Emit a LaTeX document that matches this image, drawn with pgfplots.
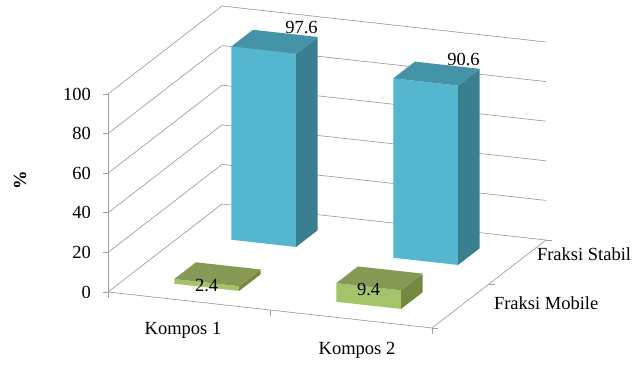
\documentclass[border=0pt]{standalone}
\usepackage{pgfplots}
\pgfplotsset{compat=1.18}
\usetikzlibrary{calc}
\usepackage{fontspec}
\setmainfont{Liberation Serif}

\definecolor{stabFront}{RGB}{85,182,208}
\definecolor{stabSide}{RGB}{58,127,143}
\definecolor{stabTop}{RGB}{69,147,168}
\definecolor{mobFront}{RGB}{165,196,106}
\definecolor{mobSide}{RGB}{116,137,63}
\definecolor{mobTop}{RGB}{135,154,85}
\definecolor{gridgray}{RGB}{160,160,160}

% One 3D column: #1 category centre (x), #2 series centre (y),
% #3 value (height), #4 colour prefix
\newcommand{\cuboid}[4]{%
  \pgfmathsetmacro\xa{#1-0.2}\pgfmathsetmacro\xb{#1+0.2}%
  \pgfmathsetmacro\ya{#2-0.19}\pgfmathsetmacro\yb{#2+0.19}%
  \edef\docolumn{%
    \noexpand\addplot3[fill=#4Front, draw=none] coordinates
      {(\xa,\ya,0) (\xb,\ya,0) (\xb,\ya,#3) (\xa,\ya,#3)};
    \noexpand\addplot3[fill=#4Side, draw=none] coordinates
      {(\xb,\ya,0) (\xb,\yb,0) (\xb,\yb,#3) (\xb,\ya,#3)};
    \noexpand\addplot3[fill=#4Top, draw=none] coordinates
      {(\xa,\ya,#3) (\xb,\ya,#3) (\xb,\yb,#3) (\xa,\yb,#3)};
  }\docolumn
}
\newcommand{\toplabel}[3]{% value above a column
  \pgfmathsetmacro\xl{#1+0.1}\pgfmathsetmacro\yl{#2+0.19}%
  \edef\dolabel{\noexpand\node[anchor=south, inner sep=1pt] at (axis cs:\xl,\yl,#3) {#3};}\dolabel}
\newcommand{\frontlabel}[3]{% value on the front face of a column
  \pgfmathsetmacro\yl{#2-0.19}%
  \edef\dolabel{\noexpand\node[anchor=center, inner sep=0pt, yshift=-3pt] at (axis cs:#1,\yl,#3) {#3};}\dolabel}

\begin{document}
\begin{tikzpicture}[font=\fontsize{18.5}{22}\selectfont]
\begin{axis}[
  x={(162pt,-18pt)}, y={(57pt,44pt)}, z={(0pt,1.98pt)},
  disabledatascaling,
  xmin=0, xmax=2, ymin=0, ymax=2, zmin=0, zmax=100,
  hide axis, clip=false,
]
\coordinate (O) at (axis cs:0,0,0);
% side wall and back wall with their grid lines
\pgfplotsinvokeforeach{0,20,40,60,80,100}{
  \draw[gridgray, line width=0.7pt] (axis cs:0,0,#1) -- (axis cs:0,2,#1) -- (axis cs:2,2,#1);
  \draw[gridgray, line width=0.7pt] (axis cs:0,0,#1) -- ++(-5pt,0pt);
  \node[anchor=east, inner sep=0pt, xshift=-17pt] at (axis cs:0,0,#1) {#1};
}
\draw[gridgray, line width=0.7pt] (axis cs:0,0,0) -- (axis cs:0,0,100);
% floor edges with category and series ticks
\draw[gridgray, line width=0.7pt] (axis cs:0,0,0) -- (axis cs:2,0,0) -- (axis cs:2,2,0);
\pgfplotsinvokeforeach{0,1,2}{
  \draw[gridgray, line width=0.7pt] (axis cs:#1,0,0) -- ++(0pt,-6pt);
  \draw[gridgray, line width=0.7pt] (axis cs:2,#1,0) -- ++(6pt,0pt);
}
\node[anchor=north, yshift=-18pt, xshift=-6pt] at (axis cs:0.5,0,0) {Kompos 1};
\node[anchor=north, yshift=-20pt, xshift=6pt] at (axis cs:1.5,0,0) {Kompos 2};
\node[anchor=west, xshift=30pt, yshift=3pt] at (axis cs:2,0.5,0) {Fraksi Mobile};
\node[anchor=west, xshift=16pt, yshift=8pt] at (axis cs:2,1.5,0) {Fraksi Stabil};
\node[rotate=90, font=\fontsize{18.5}{22}\selectfont\bfseries]
  at ($(axis cs:0,0,50)+(-88pt,13pt)$) {\%};

% Fraksi Stabil (back row)
\cuboid{0.5}{1.5}{97.6}{stab}
\cuboid{1.5}{1.5}{90.6}{stab}
% Fraksi Mobile (front row)
\cuboid{0.5}{0.5}{2.4}{mob}
\cuboid{1.5}{0.5}{9.4}{mob}

\toplabel{0.5}{1.5}{97.6}
\toplabel{1.5}{1.5}{90.6}
\frontlabel{0.5}{0.5}{2.4}
\frontlabel{1.5}{0.5}{9.4}
\end{axis}
\pgfresetboundingbox
\path[use as bounding box] ($(O)+(-108pt,292pt)$) rectangle ($(O)+(530pt,-75pt)$);
\end{tikzpicture}
\end{document}
